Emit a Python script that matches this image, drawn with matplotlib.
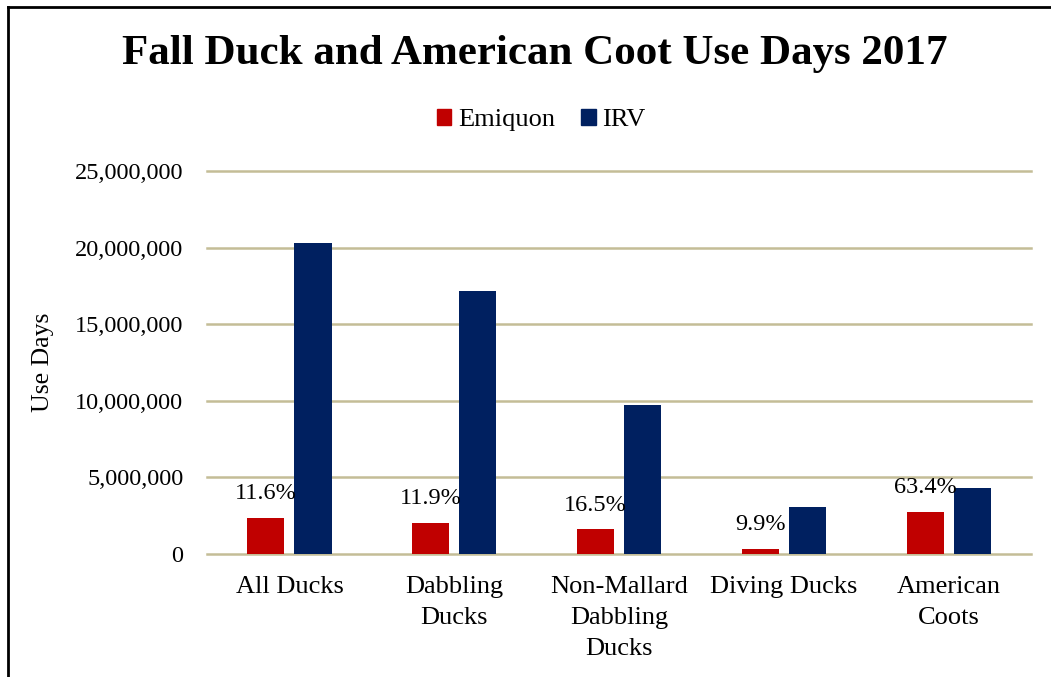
import matplotlib
matplotlib.use("Agg")
import matplotlib.pyplot as plt
import numpy as np
from matplotlib.lines import Line2D
from matplotlib.patches import Patch

# Data
categories = ["All Ducks", "Dabbling\nDucks", "Non-Mallard\nDabbling\nDucks",
              "Diving Ducks", "American\nCoots"]
emiquon = [2350000, 2040000, 1600000, 305000, 2730000]
irv = [20300000, 17150000, 9720000, 3090000, 4310000]
pct_labels = ["11.6%", "11.9%", "16.5%", "9.9%", "63.4%"]
y_ticks = [0, 5000000, 10000000, 15000000, 20000000, 25000000]

RED = "#C00000"
NAVY = "#002060"
GRID = "#C4BD97"

plt.rcParams["font.family"] = ["Liberation Serif", "DejaVu Serif"]

fig = plt.figure(figsize=(10.51, 6.77), dpi=100)
ax = fig.add_axes([0.197, 0.1817, 0.784, 0.5656])

x = np.arange(len(categories))
w = 0.225
off = 0.143
ax.bar(x - off, emiquon, w, color=RED, label="Emiquon", zorder=3)
ax.bar(x + off, irv, w, color=NAVY, label="IRV", zorder=3)

# percentage labels above Emiquon bars
for xi, v, lab in zip(x, emiquon, pct_labels):
    ax.annotate(lab, (xi - off, v), xytext=(0, 10), textcoords="offset points",
                ha="center", va="bottom", fontsize=17.5, zorder=4)

ax.set_xlim(-0.5, 4.5)
ax.set_ylim(0, 25000000)
ax.set_yticks(y_ticks)
ax.yaxis.set_major_formatter(matplotlib.ticker.FuncFormatter(lambda v, p: "{:,.0f}".format(v)))
ax.set_xticks(x)
ax.set_xticklabels(categories, fontsize=19, linespacing=1.52)
ax.tick_params(axis="y", labelsize=17.5, length=0, pad=17)
ax.tick_params(axis="x", length=0, pad=16)
for t in y_ticks:
    ax.axhline(t, color=GRID, linewidth=1.8, zorder=1, clip_on=False)
for s in ax.spines.values():
    s.set_visible(False)
ax.set_ylabel("Use Days", fontsize=18.5, labelpad=15)

fig.text(0.509, 0.92, "Fall Duck and American Coot Use Days 2017", ha="center", va="center",
         fontsize=31, fontweight="bold")

handles = [Patch(color=RED, label="Emiquon"), Patch(color=NAVY, label="IRV")]
fig.legend(handles=handles, loc="center", bbox_to_anchor=(0.515, 0.823), ncol=2, frameon=False,
           fontsize=19, handlelength=0.55, handleheight=0.55, handletextpad=0.25, columnspacing=1.0)

# figure border (left and top edges visible)
fig.add_artist(Line2D([7.5 / 1051, 7.5 / 1051], [0, 1 - 7 / 677], transform=fig.transFigure,
                      color="black", linewidth=2))
fig.add_artist(Line2D([7.5 / 1051, 1], [1 - 7 / 677, 1 - 7 / 677], transform=fig.transFigure,
                      color="black", linewidth=2))

fig.savefig("out.png", dpi=100)
